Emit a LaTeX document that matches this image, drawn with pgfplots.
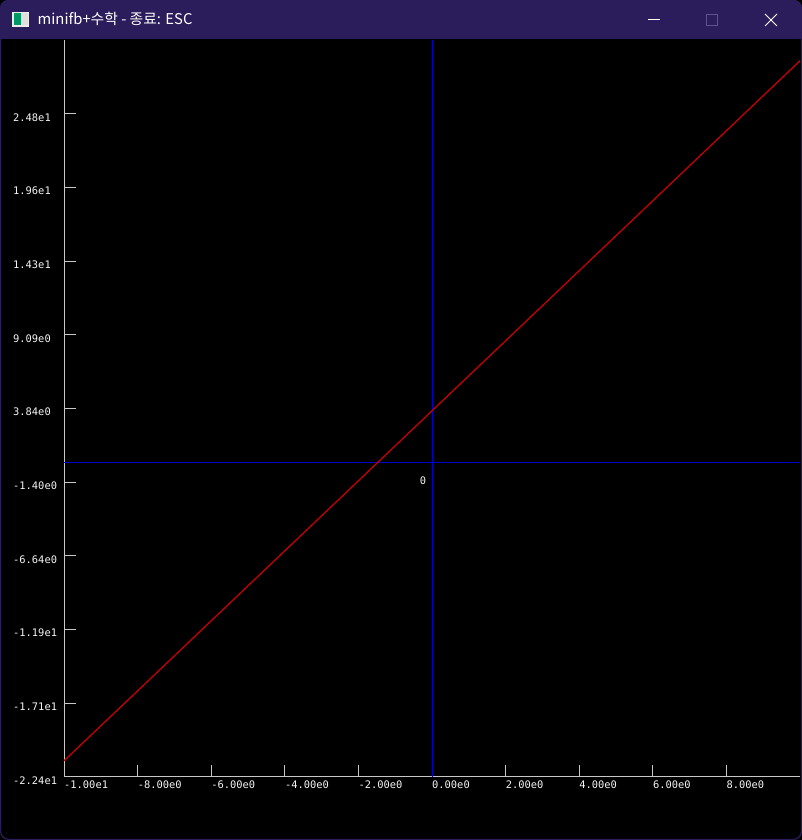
\documentclass[border=0pt]{standalone}
\usepackage{fontspec}
\usepackage{pgfplots}
\pgfplotsset{compat=1.18}
\newfontfamily\cjk{Noto Sans CJK KR}
\newfontfamily\mono{DejaVu Sans Mono}
\definecolor{titlebar}{RGB}{43,29,91}
\definecolor{axisgray}{RGB}{200,200,200}
\definecolor{labelgray}{RGB}{245,245,245}
\definecolor{zeroblue}{RGB}{0,0,205}
\definecolor{linered}{RGB}{195,0,0}
\definecolor{dimbtn}{RGB}{95,82,140}

\begin{document}
\begin{tikzpicture}[x=1pt,y=1pt]
% window background and title bar
\fill[black] (0,0) rectangle (802,840);
\fill[titlebar,rounded corners=8pt] (0,790) rectangle (802,840);
\fill[black] (1,0) rectangle (801,800.5);
\draw[titlebar,line width=1.2pt,rounded corners=8pt] (0.6,0.6) rectangle (801.4,839.4);
% icon
\fill[white!85!gray] (12,813) rectangle (29,828);
\fill[teal!80!green] (13.5,814.5) rectangle (21,826.5);
\fill[white!75!gray] (21,814.5) rectangle (27.5,826.5);
\node[anchor=base west,inner sep=0pt,text=white,font=\cjk\fontsize{14.8}{15}\selectfont] at (37.5,815) {minifb+수학 - 종료: ESC};
% window buttons
\draw[white,line width=0.9pt] (648,821) -- (660,821);
\draw[dimbtn,line width=0.9pt] (706.5,814.5) rectangle (717.5,825.5);
\draw[white,line width=1pt] (765,826) -- (777,814) (765,814) -- (777,826);

\begin{axis}[at={(64pt,63.3pt)},anchor=south west,scale only axis,
width=736pt,height=736.7pt,
xmin=-10,xmax=10,ymin=-22.36,ymax=30.04,
axis lines*=left,axis line style={axisgray,line width=1pt,-},
tick align=inside,major tick length=12pt,
tick style={axisgray,line width=1pt},
xtick={-10,-8,-6,-4,-2,0,2,4,6,8},
xticklabels={-1.00e1,-8.00e0,-6.00e0,-4.00e0,-2.00e0,0.00e0,2.00e0,4.00e0,6.00e0,8.00e0},
ytick={-22.36,-17.12,-11.88,-6.64,-1.40,3.84,9.08,14.32,19.56,24.80},
yticklabels={-2.24e1,-1.71e1,-1.19e1,-6.64e0,-1.40e0,3.84e0,9.09e0,1.43e1,1.96e1,2.48e1},
xticklabel style={anchor=north west,inner sep=0pt,yshift=-4.3pt,text=labelgray,font=\mono\fontsize{10.4}{10}\selectfont},
yticklabel style={anchor=west,inner sep=0pt,xshift=-51pt,yshift=-3.7pt,text=labelgray,font=\mono\fontsize{10.4}{10}\selectfont},
clip=false]
\addplot[zeroblue,line width=1pt] coordinates {(-10,0) (10,0)};
\addplot[zeroblue,line width=1pt] coordinates {(0,-22.36) (0,30.04)};
\addplot[linered,line width=1.3pt] coordinates {
(-10,-21.23) (-9,-18.74) (-8,-16.25) (-7,-13.76) (-6,-11.27) (-5,-8.78)
(-4,-6.29) (-3,-3.80) (-2,-1.31) (-1,1.18) (0,3.67) (1,6.16) (2,8.65)
(3,11.14) (4,13.63) (5,16.12) (6,18.61) (7,21.10) (8,23.59) (9,26.08) (10,28.57)};
\node[text=labelgray,font=\mono\fontsize{10.4}{10}\selectfont,inner sep=0pt,xshift=-9pt,yshift=-18pt] at (axis cs:0,0) {0};
\end{axis}
\pgfresetboundingbox
\path (0,0) rectangle (802,840);
\end{tikzpicture}
\end{document}
